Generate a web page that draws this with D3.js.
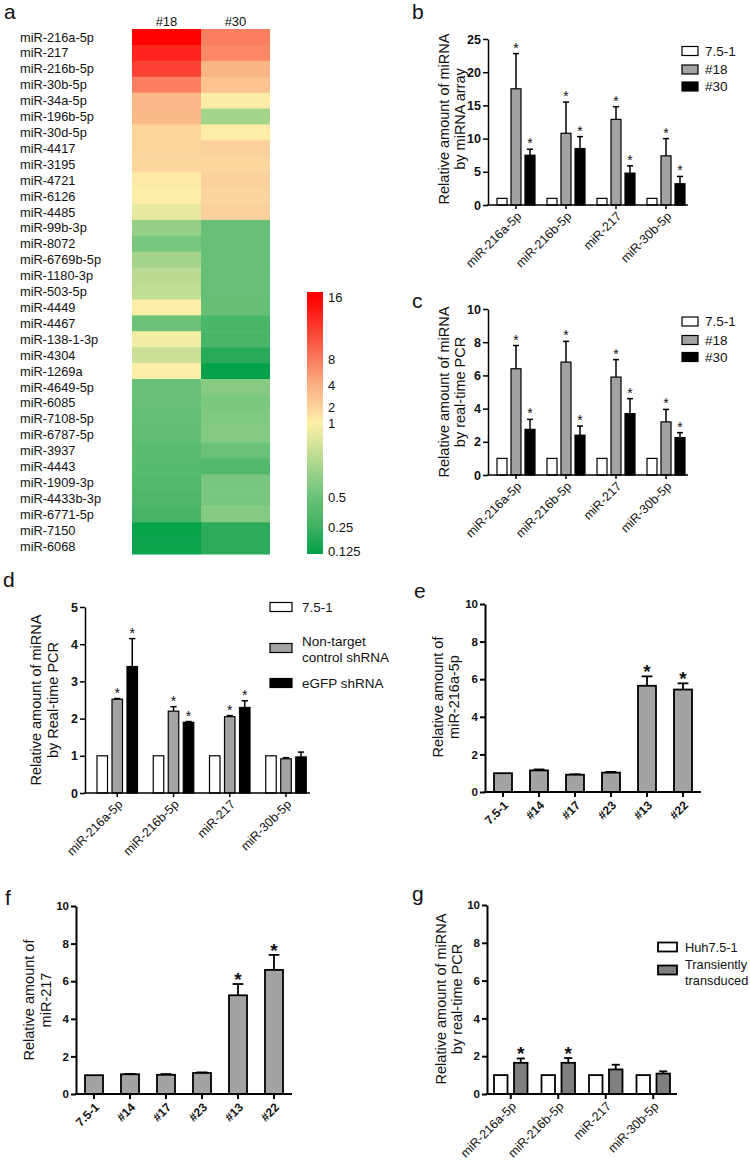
<!DOCTYPE html>
<html><head><meta charset="utf-8">
<script src="https://cdn.jsdelivr.net/npm/d3@7"></script>
<style>
body{margin:0;background:#fff}
svg{display:block}
text{font-family:Arial,"Liberation Sans",sans-serif;fill:#111}
</style></head>
<body><svg id="fig" width="750" height="1163"></svg>
<script>
// ---------------- DATA ----------------
// Panel a: heatmap (log2 fold change vs 7.5-1)
const heatRows = ["miR-216a-5p","miR-217","miR-216b-5p","miR-30b-5p","miR-34a-5p","miR-196b-5p","miR-30d-5p","miR-4417","miR-3195","miR-4721","miR-6126","miR-4485","miR-99b-3p","miR-8072","miR-6769b-5p","miR-1180-3p","miR-503-5p","miR-4449","miR-4467","miR-138-1-3p","miR-4304","miR-1269a","miR-4649-5p","miR-6085","miR-7108-5p","miR-6787-5p","miR-3937","miR-4443","miR-1909-3p","miR-4433b-3p","miR-6771-5p","miR-7150","miR-6068"];
const heatCols = ["#18","#30"];
const heatLog2_18 = [4.0,3.7,3.45,2.9,1.8,1.75,0.9,0.88,0.85,0.2,0.12,-0.15,-0.7,-0.9,-0.6,-0.45,-0.42,0.05,-1.0,-0.07,-0.35,0.05,-1.05,-1.1,-1.15,-1.25,-1.35,-1.45,-1.55,-1.65,-1.8,-2.9,-2.8];
const heatLog2_30 = [2.9,2.75,1.9,1.5,0.15,-0.6,0.12,1.1,0.9,1.05,0.95,1.1,-1.1,-1.1,-1.1,-1.1,-1.1,-1.12,-1.75,-1.75,-2.35,-2.95,-0.8,-0.88,-0.85,-0.82,-1.0,-1.55,-0.9,-0.9,-0.82,-2.3,-2.3];
const legendTickValues = [16,8,4,2,1,0.5,0.25,0.125];
const colorStopLog2 = [4,3,2,1,0,-1,-2,-3];
const colorStopColors = ["#ff0000","#f97a5c","#fbb084","#fcd39c","#fdf0a6","#6ac279","#3eb062","#00a04a"];

// shared categories
const mirCats = ["miR-216a-5p","miR-216b-5p","miR-217","miR-30b-5p"];
const cloneCats = ["7.5-1","#14","#17","#23","#13","#22"];

// Panel b: miRNA array
const bSeriesNames = ["7.5-1","#18","#30"];
const b_751 = [1,1,1,1];           const b_751_err = [0,0,0,0];
const b_18 = [17.5,10.8,12.9,7.4]; const b_18_err = [5.3,4.7,1.9,2.6];
const b_30 = [7.5,8.5,4.8,3.2];    const b_30_err = [0.9,1.8,1.1,1.1];
const b_18_star = [1,1,1,1];       const b_30_star = [1,1,1,1];
const bTicks = [0,5,10,15,20,25];

// Panel c: real-time PCR
const c_751 = [1,1,1,1];           const c_751_err = [0,0,0,0];
const c_18 = [6.4,6.8,5.9,3.2];    const c_18_err = [1.4,1.25,1.05,0.75];
const c_30 = [2.75,2.4,3.7,2.25];  const c_30_err = [0.6,0.55,0.9,0.3];
const c_18_star = [1,1,1,1];       const c_30_star = [1,1,1,1];
const cTicks = [0,2,4,6,8,10];

// Panel d: shRNA
const dSeriesNames = ["7.5-1","Non-target control shRNA","eGFP shRNA"];
const d_751 = [1,1,1,1];            const d_751_err = [0,0,0,0];
const d_nt = [2.52,2.2,2.05,0.92];  const d_nt_err = [0.02,0.12,0.03,0.03];
const d_eg = [3.4,1.9,2.3,0.97];    const d_eg_err = [0.75,0.02,0.18,0.13];
const d_nt_star = [1,1,1,0];        const d_eg_star = [1,1,1,0];
const dTicks = [0,1,2,3,4,5];

// Panel e: miR-216a-5p in clones
const e_vals = [1.0,1.15,0.92,1.03,5.65,5.45];
const e_err = [0,0.05,0.02,0.04,0.5,0.33];
const e_star = [0,0,0,0,1,1];
// Panel f: miR-217 in clones
const f_vals = [1.0,1.05,1.02,1.12,5.25,6.6];
const f_err = [0,0.02,0.04,0.03,0.6,0.8];
const f_star = [0,0,0,0,1,1];
const efTicks = [0,2,4,6,8,10];

// Panel g: transient transduction
const gSeriesNames = ["Huh7.5-1","Transiently transduced"];
const g_huh = [1,1,1,1];             const g_huh_err = [0,0,0,0];
const g_tr = [1.65,1.65,1.3,1.08];   const g_tr_err = [0.23,0.25,0.25,0.12];
const g_tr_star = [1,1,0,0];
const gTicks = [0,2,4,6,8,10];

// ---------------- DRAWING ----------------
const svg = d3.select("#fig");

function letter(t, x, y){
  svg.append("text").attr("x",x).attr("y",y).attr("font-size",21).text(t);
}

// ---- Panel a ----
(function(){
  const H = {x0:132, x1:270, top:29, bottom:554};
  const xs = d3.scaleBand().domain(heatCols).range([H.x0,H.x1]);
  const ys = d3.scaleBand().domain(heatRows).range([H.top,H.bottom]);
  const color = d3.scaleLinear().domain(colorStopLog2).range(colorStopColors).interpolate(d3.interpolateRgb).clamp(true);
  const g = svg.append("g");
  const cols = [heatLog2_18, heatLog2_30];
  heatCols.forEach((c,ci)=>{
    g.selectAll(null).data(heatRows).enter().append("rect")
      .attr("x",xs(c)).attr("y",r=>ys(r)).attr("width",xs.bandwidth()).attr("height",ys.bandwidth()+0.5)
      .attr("fill",(r,i)=>color(cols[ci][i]));
    g.append("text").attr("x",xs(c)+xs.bandwidth()/2).attr("y",H.top-3).attr("text-anchor","middle")
      .attr("font-size",13).text(c);
  });
  g.selectAll(null).data(heatRows).enter().append("text")
    .attr("x",20).attr("y",r=>ys(r)+ys.bandwidth()/2).attr("dy","0.36em")
    .attr("font-size",12.8).text(r=>r);
  // colour legend
  const lx = 307, lw = 16;
  const ly = d3.scaleLinear().domain(colorStopLog2).range([297,359,385,407,423,497,527,554]);
  const top = 292, bot = 554;
  const grad = svg.append("defs").append("linearGradient").attr("id","cbar")
    .attr("x1",0).attr("y1",0).attr("x2",0).attr("y2",1);
  colorStopLog2.forEach((v,i)=>{
    grad.append("stop").attr("offset",((ly(v)-top)/(bot-top)).toFixed(4)).attr("stop-color",colorStopColors[i]);
  });
  g.append("rect").attr("x",lx).attr("y",top).attr("width",lw).attr("height",bot-top).attr("fill","url(#cbar)");
  g.selectAll(null).data(legendTickValues).enter().append("text")
    .attr("x",lx+lw+5).attr("y",v=>Math.min(ly(Math.log2(v)), 551)).attr("dy","0.36em")
    .attr("font-size",13).text(v=>v);
})();
letter("a",4,19);

// ---- generic bar chart ----
function barChart(L, D){
  const g = svg.append("g");
  const x0 = d3.scaleBand().domain(D.cats).range(L.xRange);
  const x1 = d3.scaleBand().domain(D.series.map(s=>s.name)).range(L.inner).paddingInner(L.innerPad);
  const y = d3.scaleLinear().domain([D.ticks[0], D.ticks[D.ticks.length-1]]).range([L.yBottom, L.yTop]);
  // bars
  D.series.forEach(s=>{
    D.cats.forEach((c,i)=>{
      const bx = x0(c)+x1(s.name), bw = x1.bandwidth(), v = s.values[i];
      const e = s.errs ? s.errs[i] : 0;
      const cx = bx + bw/2;
      if(e>0){
        g.append("line").attr("x1",cx).attr("x2",cx).attr("y1",y(v)).attr("y2",y(v+e))
          .attr("stroke","#000").attr("stroke-width",L.errW);
        g.append("line").attr("x1",cx-bw*0.3).attr("x2",cx+bw*0.3).attr("y1",y(v+e)).attr("y2",y(v+e))
          .attr("stroke","#000").attr("stroke-width",L.errW);
      }
      g.append("rect").attr("x",bx).attr("y",y(v)).attr("width",bw).attr("height",y(0)-y(v))
        .attr("fill",s.fill).attr("stroke","#000").attr("stroke-width",L.barStroke);
      if(s.stars && s.stars[i]){
        g.append("text").attr("x",cx).attr("y",y(v+e)+L.starDy).attr("text-anchor","middle")
          .attr("font-size",L.starSize).attr("font-weight",L.starWeight).text("*");
      }
    });
  });
  // y axis
  const ax = g.append("g").attr("transform",`translate(${L.xRange[0]},0)`)
    .call(d3.axisLeft(y).tickValues(D.ticks).tickFormat(d3.format("~g")).tickSize(L.tickLen).tickSizeOuter(0).tickPadding(2));
  ax.select(".domain").attr("stroke","#000").attr("stroke-width",L.axisW);
  ax.selectAll(".tick line").attr("stroke","#000").attr("stroke-width",L.axisW);
  ax.selectAll(".tick text").attr("font-size",L.tickFont).attr("font-weight","bold")
    .attr("font-family","Arial, 'Liberation Sans', sans-serif").attr("fill","#111");
  // x axis line
  g.append("line").attr("x1",L.xRange[0]-L.axisW/2).attr("x2",L.xRange[1]).attr("y1",L.yBottom).attr("y2",L.yBottom)
    .attr("stroke","#000").attr("stroke-width",L.axisW);
  // x ticks and labels
  D.cats.forEach(c=>{
    const cx = x0(c) + (L.inner[0]+L.inner[1])/2;
    g.append("line").attr("x1",cx).attr("x2",cx).attr("y1",L.yBottom).attr("y2",L.yBottom+L.xTickLen)
      .attr("stroke","#000").attr("stroke-width",L.axisW);
    g.append("text").attr("transform",`translate(${cx+L.xLabDx},${L.yBottom+L.xLabDy}) rotate(-45)`)
      .attr("text-anchor","end").attr("dy","0.35em").attr("font-size",L.xFont).attr("font-weight",L.xWeight).text(c);
  });
  // y label
  L.yLabel.forEach((t,i)=>{
    g.append("text").attr("transform",`translate(${L.yLabelX[i]},${L.yLabelY}) rotate(-90)`)
      .attr("text-anchor","middle").attr("dy","0.35em").attr("font-size",L.yLabelFont).text(t);
  });
  // legend
  if(L.legend){
    L.legend.items.forEach((it,i)=>{
      const s = D.series[i];
      g.append("rect").attr("x",L.legend.x).attr("y",it.boxY-L.legend.bh/2).attr("width",L.legend.bw).attr("height",L.legend.bh)
        .attr("fill",s.fill).attr("stroke","#000").attr("stroke-width",L.barStroke);
      it.lines.forEach((ln,j)=>{
        g.append("text").attr("x",L.legend.tx).attr("y",it.textY[j]).attr("dy","0.36em")
          .attr("font-size",L.legend.font).text(ln);
      });
    });
  }
}

const GREY = "#a3a3a3";

// Panel b
barChart({xRange:[488,688], yTop:39, yBottom:205, inner:[9,47], innerPad:0.2857, barStroke:1.2, errW:1.5, axisW:1.5,
  tickLen:5, tickFont:12.5, xTickLen:4, xLabDx:3, xLabDy:9, xFont:12.5, xWeight:"normal",
  starDy:-1, starSize:14, starWeight:"normal",
  yLabel:["Relative amount of miRNA","by miRNA array"], yLabelX:[444,460], yLabelY:119, yLabelFont:14.5,
  legend:{x:682, bw:16, bh:9, tx:705, font:13.5, items:[{boxY:51,lines:["7.5-1"],textY:[51]},{boxY:69.5,lines:["#18"],textY:[69.5]},{boxY:86.5,lines:["#30"],textY:[86.5]}]}
},{cats:mirCats, ticks:bTicks, series:[
  {name:bSeriesNames[0], values:b_751, errs:b_751_err, fill:"#fff"},
  {name:bSeriesNames[1], values:b_18, errs:b_18_err, stars:b_18_star, fill:GREY},
  {name:bSeriesNames[2], values:b_30, errs:b_30_err, stars:b_30_star, fill:"#000"}]});
letter("b",412,19);

// Panel c
barChart({xRange:[488,688], yTop:309, yBottom:475, inner:[9,47], innerPad:0.2857, barStroke:1.2, errW:1.5, axisW:1.5,
  tickLen:5, tickFont:12.5, xTickLen:4, xLabDx:3, xLabDy:9, xFont:12.5, xWeight:"normal",
  starDy:-1, starSize:14, starWeight:"normal",
  yLabel:["Relative amount of miRNA","by  real-time PCR"], yLabelX:[444,460], yLabelY:392, yLabelFont:14.5,
  legend:{x:682, bw:16, bh:9, tx:705, font:13.5, items:[{boxY:321.5,lines:["7.5-1"],textY:[321.5]},{boxY:340,lines:["#18"],textY:[340]},{boxY:357,lines:["#30"],textY:[357]}]}
},{cats:mirCats, ticks:cTicks, series:[
  {name:bSeriesNames[0], values:c_751, errs:c_751_err, fill:"#fff"},
  {name:bSeriesNames[1], values:c_18, errs:c_18_err, stars:c_18_star, fill:GREY},
  {name:bSeriesNames[2], values:c_30, errs:c_30_err, stars:c_30_star, fill:"#000"}]});
letter("c",412,308);

// Panel d
barChart({xRange:[85,310], yTop:607, yBottom:793, inner:[12,52.5], innerPad:0.3, barStroke:1.2, errW:1.5, axisW:1.5,
  tickLen:5, tickFont:12.5, xTickLen:4, xLabDx:3, xLabDy:9, xFont:12.5, xWeight:"normal",
  starDy:-1, starSize:14, starWeight:"normal",
  yLabel:["Relative amount of miRNA","by Real-time PCR"], yLabelX:[36,52.5], yLabelY:700, yLabelFont:14.5,
  legend:{x:270, bw:22, bh:9, tx:302, font:13.5, items:[
    {boxY:607,lines:["7.5-1"],textY:[607]},
    {boxY:648,lines:["Non-target","control shRNA"],textY:[641,657]},
    {boxY:683,lines:["eGFP shRNA"],textY:[683]}]}
},{cats:mirCats, ticks:dTicks, series:[
  {name:dSeriesNames[0], values:d_751, errs:d_751_err, fill:"#fff"},
  {name:dSeriesNames[1], values:d_nt, errs:d_nt_err, stars:d_nt_star, fill:GREY},
  {name:dSeriesNames[2], values:d_eg, errs:d_eg_err, stars:d_eg_star, fill:"#000"}]});
letter("d",3,587);

// Panel e
barChart({xRange:[485,701], yTop:604, yBottom:792, inner:[9,27], innerPad:0, barStroke:1.8, errW:1.8, axisW:2,
  tickLen:5, tickFont:11.5, xTickLen:5, xLabDx:3, xLabDy:11, xFont:12, xWeight:"bold",
  starDy:2, starSize:19, starWeight:"bold",
  yLabel:["Relative amount of","miR-216a-5p"], yLabelX:[438,454], yLabelY:697, yLabelFont:14.5
},{cats:cloneCats, ticks:efTicks, series:[{name:"clone", values:e_vals, errs:e_err, stars:e_star, fill:GREY}]});
letter("e",414,598);

// Panel f
barChart({xRange:[76,292], yTop:906, yBottom:1094, inner:[9,27], innerPad:0, barStroke:1.8, errW:1.8, axisW:2,
  tickLen:5, tickFont:11.5, xTickLen:5, xLabDx:3, xLabDy:11, xFont:12, xWeight:"bold",
  starDy:2, starSize:19, starWeight:"bold",
  yLabel:["Relative amount of","miR-217"], yLabelX:[29,46], yLabelY:1000, yLabelFont:14.5
},{cats:cloneCats, ticks:efTicks, series:[{name:"clone", values:f_vals, errs:f_err, stars:f_star, fill:GREY}]});
letter("f",5,905);

// Panel g
barChart({xRange:[487,677], yTop:905, yBottom:1094, inner:[7,40.5], innerPad:0.325, barStroke:1.8, errW:1.8, axisW:2,
  tickLen:5, tickFont:11.5, xTickLen:5, xLabDx:3, xLabDy:10, xFont:12.5, xWeight:"normal",
  starDy:2, starSize:19, starWeight:"bold",
  yLabel:["Relative amount of miRNA","by real-time PCR"], yLabelX:[441,457], yLabelY:999, yLabelFont:14.5,
  legend:{x:658, bw:19, bh:9, tx:685, font:12.8, items:[
    {boxY:947,lines:["Huh7.5-1"],textY:[947]},
    {boxY:970,lines:["Transiently","transduced"],textY:[964,980]}]}
},{cats:mirCats, ticks:gTicks, series:[
  {name:gSeriesNames[0], values:g_huh, errs:g_huh_err, fill:"#fff"},
  {name:gSeriesNames[1], values:g_tr, errs:g_tr_err, stars:g_tr_star, fill:"#7f7f7f"}]});
letter("g",412,901);
</script></body></html>
